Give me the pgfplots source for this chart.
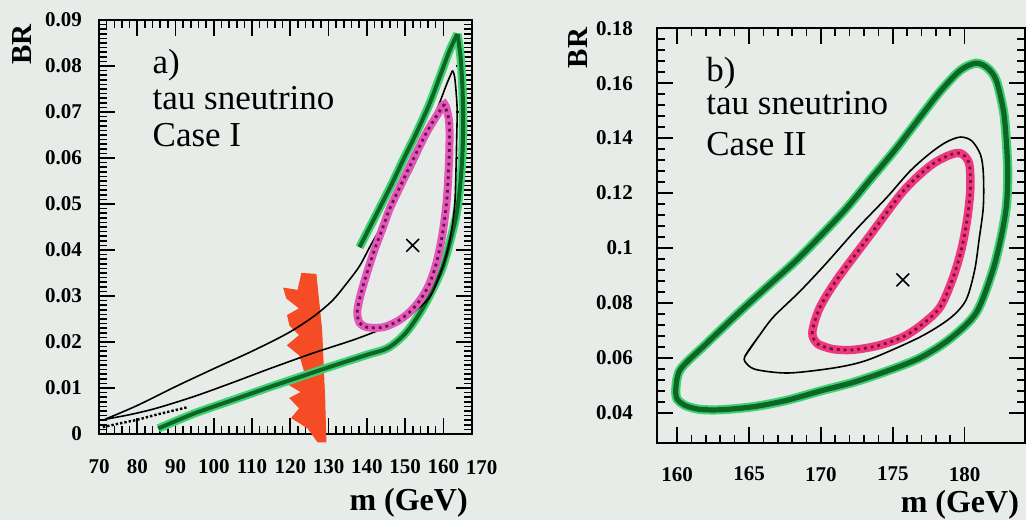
\documentclass[border=0pt]{standalone}
\usepackage{pgfplots}
\pgfplotsset{compat=1.18}
\usepackage{fontspec}
\setmainfont{Liberation Serif}
\definecolor{bg}{rgb}{0.91,0.925,0.91}
\definecolor{greenlight}{rgb}{0.25,0.82,0.45}
\definecolor{greendark}{rgb}{0.05,0.40,0.15}
\definecolor{magA}{rgb}{0.88,0.35,0.72}
\definecolor{magAdark}{rgb}{0.45,0.05,0.30}
\definecolor{magB}{rgb}{0.93,0.22,0.50}
\definecolor{magBdark}{rgb}{0.50,0.05,0.20}
\definecolor{redc}{rgb}{0.96,0.30,0.15}
\tikzset{txt/.style={anchor=west, font=\fontsize{17.5}{19}\selectfont}}
\pgfplotsset{
  panel/.style={
    scale only axis, anchor=south west,
    axis background/.style={fill=bg},
    axis line style={line width=1.2pt},
    tick style={black, line width=0.8pt},
    major tick length=8pt, minor tick length=4pt,
    tick align=inside, xtick pos=both, ytick pos=both,
    scaled x ticks=false, scaled y ticks=false,
    /pgf/number format/assume math mode=true,
    ticklabel style={font=\fontsize{10.5}{12}\selectfont\bfseries},
    xlabel style={font=\fontsize{16}{18}\selectfont\bfseries},
    ylabel style={font=\fontsize{14.5}{16}\selectfont\bfseries},
  },
  greenline/.style={greenlight, line width=4.2pt, smooth, tension=0.5},
  greencore/.style={greendark, line width=2.0pt, smooth, tension=0.5},
}
\begin{document}
\begin{tikzpicture}
\path[use as bounding box] (0,0) rectangle (513pt,260pt);
\fill[bg] (0,0) rectangle (513pt,260pt);

% ---------------- panel a ----------------
\begin{axis}[panel, at={(49.5pt,43pt)}, width=186.5pt, height=207pt,
  xmin=70, xmax=167.5, ymin=0, ymax=0.09, clip=false,
  xtick={70,80,90,100,110,120,130,140,150,160},
  xticklabels={70,80,90,100,110,120,130,140,150,160},
  ytick={0,0.01,0.02,0.03,0.04,0.05,0.06,0.07,0.08,0.09},
  yticklabels={0,0.01,0.02,0.03,0.04,0.05,0.06,0.07,0.08,0.09},
  minor x tick num=4, minor y tick num=9,
  xticklabel style={yshift=-9pt},
  yticklabel style={xshift=-5pt},
  xlabel={m (GeV)}, ylabel={BR},
  xlabel style={at={(rel axis cs:0.83,-0.165)}, anchor=center},
  ylabel style={at={(rel axis cs:-0.205,0.94)}, anchor=center, rotate=0},
]
% red region
\addplot[fill=redc, draw=redc, line width=0.5pt] coordinates {
(123.0,0.0349) (126.7,0.0347) (128.2,0.0226) (129.0,0.0074) (129.3,-0.0017)
(127.2,-0.0017) (124.6,0.0013) (120.4,0.0035) (122.5,0.0056) (119.9,0.0078)
(123.0,0.0091) (119.9,0.0106) (123.8,0.0134) (122.5,0.0171) (119.3,0.0193)
(122.5,0.0215) (119.9,0.0236) (119.3,0.0258) (122.5,0.0273) (119.1,0.0295)
(118.3,0.0317) (122.0,0.0312)} -- cycle;
% green contour, lower and right part
\addplot[greenline] coordinates {
(85.5,0.0012) (95,0.0045) (105,0.0074) (114.6,0.0102) (122.5,0.0124) (130,0.0145)
(140,0.0172) (145.5,0.0187) (150,0.0218) (153.8,0.0262) (157,0.031) (159.8,0.0362)
(161.8,0.042) (163.5,0.048) (164.5,0.055) (165,0.061) (165.2,0.068) (165,0.0753)
(164.5,0.082) (163.7,0.087)};
\addplot[greenline] coordinates {
(163.7,0.087) (161.6,0.0833) (159,0.0775) (156.4,0.0718) (153,0.0655) (149.4,0.0594)
(146.5,0.0543) (143.4,0.0492) (140.5,0.0445) (138.1,0.0406)};
\addplot[greencore] coordinates {
(85.5,0.0012) (95,0.0045) (105,0.0074) (114.6,0.0102) (122.5,0.0124) (130,0.0145)
(140,0.0172) (145.5,0.0187) (150,0.0218) (153.8,0.0262) (157,0.031) (159.8,0.0362)
(161.8,0.042) (163.5,0.048) (164.5,0.055) (165,0.061) (165.2,0.068) (165,0.0753)
(164.5,0.082) (163.7,0.087)};
\addplot[greencore] coordinates {
(163.7,0.087) (161.6,0.0833) (159,0.0775) (156.4,0.0718) (153,0.0655) (149.4,0.0594)
(146.5,0.0543) (143.4,0.0492) (140.5,0.0445) (138.1,0.0406)};
% dotted piece bottom left
\addplot[black, densely dotted, line width=1.2pt, smooth] coordinates {
(71,0.0015) (76,0.0024) (80,0.0031) (85,0.0042) (90,0.0052) (93,0.0058)};
% thin black contour
\addplot[black, line width=0.8pt, smooth, tension=0.5] coordinates {
(71.6,0.0032) (80,0.0062) (90,0.0103) (100,0.0142) (110,0.018) (119.3,0.0219)
(126,0.0255) (131,0.029) (134.5,0.0325) (138.1,0.0365) (141,0.041) (144.2,0.0457)
(147.5,0.051) (151.2,0.0566) (154,0.0615) (156.4,0.0666) (158.8,0.0715) (160.9,0.0761)
(162.4,0.079)};
\addplot[black, line width=0.8pt, smooth, tension=0.5] coordinates {
(162.4,0.079) (163,0.0774) (163.6,0.071) (163.5,0.0644) (163.3,0.057) (163,0.050)
(162.2,0.0445) (160.9,0.0392) (158.8,0.034) (156.4,0.0297) (153,0.027) (149.4,0.0247)
(143,0.0225) (136.3,0.0204) (126,0.0176) (114.6,0.0142) (105,0.0112) (95,0.0082)
(85,0.0056) (78,0.0042) (71.6,0.0032)};
% magenta contour
\addplot[magA, line width=4pt, smooth, tension=0.5] coordinates {
(160.3,0.0717) (158.5,0.0695) (155.6,0.0655) (152,0.0595) (148.6,0.0536) (146,0.049)
(144.2,0.0449) (142,0.040) (140,0.0349) (138.3,0.030) (137.5,0.0265) (138.1,0.0242)
(140,0.0232) (144.2,0.0232) (148,0.0245) (151.2,0.0265) (154,0.0292) (156.4,0.0327)
(158.3,0.0375) (159.8,0.0436) (160.8,0.0500) (161.3,0.0560) (161.6,0.0625)
(161.5,0.068) (160.3,0.0717) (158.5,0.0695)};
\addplot[magAdark, line width=1.4pt, dotted, smooth, tension=0.5] coordinates {
(160.3,0.0717) (158.5,0.0695) (155.6,0.0655) (152,0.0595) (148.6,0.0536) (146,0.049)
(144.2,0.0449) (142,0.040) (140,0.0349) (138.3,0.030) (137.5,0.0265) (138.1,0.0242)
(140,0.0232) (144.2,0.0232) (148,0.0245) (151.2,0.0265) (154,0.0292) (156.4,0.0327)
(158.3,0.0375) (159.8,0.0436) (160.8,0.0500) (161.3,0.0560) (161.6,0.0625)
(161.5,0.068) (160.3,0.0717)};
% best fit point
\addplot[black, only marks, mark=x, mark size=4.5pt, line width=0.8pt] coordinates {(152,0.041)};
% texts
\node[txt] at (rel axis cs:0.125,0.891) {a)};
\node[txt] at (rel axis cs:0.125,0.812) {tau sneutrino};
\node[txt] at (rel axis cs:0.125,0.722) {Case I};
\node[anchor=north, font=\fontsize{10.5}{12}\selectfont\bfseries, yshift=-9.5pt] at (axis cs:170,0) {170};
\end{axis}

% ---------------- panel b ----------------
\begin{axis}[panel, at={(328.5pt,38.5pt)}, width=184pt, height=207.5pt,
  xmin=158.6, xmax=184.2, ymin=0.029, ymax=0.1801,
  xtick={160,165,170,175,180},
  xticklabels={160,165,170,175,180},
  ytick={0.04,0.06,0.08,0.1,0.12,0.14,0.16,0.18},
  yticklabels={0.04,0.06,0.08,0.1,0.12,0.14,0.16,0.18},
  minor x tick num=4, minor y tick num=4,
  xticklabel style={yshift=-8.5pt},
  yticklabel style={xshift=-8.5pt},
  xlabel={m (GeV)}, ylabel={BR},
  xlabel style={at={(rel axis cs:0.823,-0.15)}, anchor=center},
  ylabel style={at={(rel axis cs:-0.215,0.952)}, anchor=center, rotate=0},
]
% green contour
\addplot[greenline, line width=4.6pt] coordinates {
(159.9,0.0476) (160.2,0.0556) (162,0.065) (164.4,0.077) (166.5,0.087) (168.3,0.0955)
(169.9,0.104) (171.7,0.114) (173.4,0.1247) (175.2,0.136) (176.9,0.1476) (178.3,0.157)
(179.7,0.1647) (180.8,0.1673) (181.6,0.1655) (182.2,0.161) (182.7,0.150) (182.9,0.139)
(183,0.127) (182.9,0.115) (182.5,0.103) (181.9,0.0909) (180.8,0.0764) (179,0.067)
(176.9,0.060) (174.5,0.055) (172.2,0.051) (170,0.048) (167.6,0.0445) (165.3,0.0422)
(163,0.0411) (161.5,0.0413) (160.5,0.0428) (160,0.045) (159.9,0.0476)};
\addplot[greencore, line width=2.6pt] coordinates {
(159.9,0.0476) (160.2,0.0556) (162,0.065) (164.4,0.077) (166.5,0.087) (168.3,0.0955)
(169.9,0.104) (171.7,0.114) (173.4,0.1247) (175.2,0.136) (176.9,0.1476) (178.3,0.157)
(179.7,0.1647) (180.8,0.1673) (181.6,0.1655) (182.2,0.161) (182.7,0.150) (182.9,0.139)
(183,0.127) (182.9,0.115) (182.5,0.103) (181.9,0.0909) (180.8,0.0764) (179,0.067)
(176.9,0.060) (174.5,0.055) (172.2,0.051) (170,0.048) (167.6,0.0445) (165.3,0.0422)
(163,0.0411) (161.5,0.0413) (160.5,0.0428) (160,0.045) (159.9,0.0476)};
% thin black contour
\addplot[black, line width=0.8pt, smooth, tension=0.5] coordinates {
(164.7,0.0604) (165.7,0.068) (166.7,0.0749) (168.5,0.084) (170.3,0.094) (172.5,0.107)
(174.6,0.1185) (176.2,0.128) (177.6,0.1345) (178.7,0.1385) (179.7,0.1404) (180.5,0.139)
(181.1,0.134) (181.3,0.1273) (181.3,0.115) (181,0.1029) (180.7,0.092) (180.1,0.0811)
(179,0.0745) (176.9,0.0676) (173.4,0.0595) (171.1,0.0565) (167.8,0.0545) (165.6,0.0556)
(164.9,0.0575) (164.7,0.0604) (165.7,0.068)};
% magenta contour
\addplot[magB, line width=4.2pt, smooth, tension=0.5] coordinates {
(170.8,0.0632) (169.8,0.065) (169.4,0.0691) (169.9,0.078) (171.1,0.0884) (173.4,0.1045)
(175.7,0.1205) (177.5,0.1295) (178.8,0.1335) (179.7,0.1345) (180.3,0.131) (180.4,0.122)
(180.2,0.1113) (179.8,0.1) (179.2,0.0893) (178.3,0.0785) (177,0.072) (175.7,0.0676)
(174,0.0645) (172.2,0.0629) (170.8,0.0632) (169.8,0.065)};
\addplot[magBdark, line width=1.4pt, dotted, smooth, tension=0.5] coordinates {
(170.8,0.0632) (169.8,0.065) (169.4,0.0691) (169.9,0.078) (171.1,0.0884) (173.4,0.1045)
(175.7,0.1205) (177.5,0.1295) (178.8,0.1335) (179.7,0.1345) (180.3,0.131) (180.4,0.122)
(180.2,0.1113) (179.8,0.1) (179.2,0.0893) (178.3,0.0785) (177,0.072) (175.7,0.0676)
(174,0.0645) (172.2,0.0629) (170.8,0.0632)};
\addplot[black, only marks, mark=x, mark size=4.5pt, line width=0.8pt] coordinates {(175.7,0.0884)};
\node[txt] at (rel axis cs:0.115,0.892) {b)};
\node[txt] at (rel axis cs:0.115,0.819) {tau sneutrino};
\node[txt] at (rel axis cs:0.115,0.72) {Case II};
\end{axis}
\end{tikzpicture}
\end{document}
